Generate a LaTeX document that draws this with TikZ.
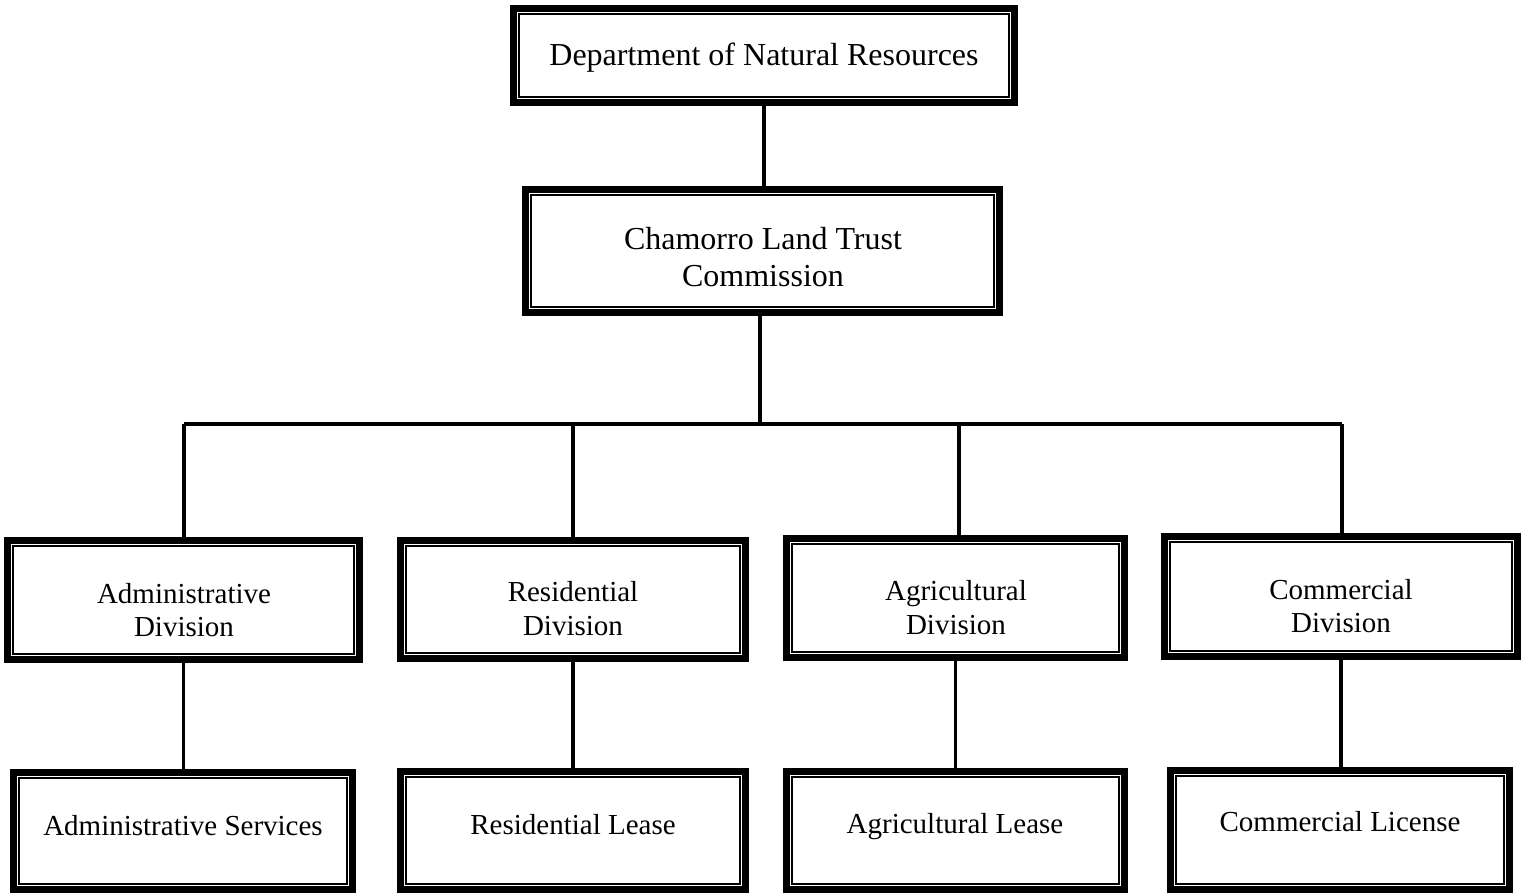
\documentclass[tikz,border=0pt]{standalone}
\usepackage{fontspec}
\setmainfont{Liberation Serif}
\begin{document}
\begin{tikzpicture}[x=0.75pt,y=-0.75pt,
  frame/.style={draw=black,line width=5.25pt,rectangle,inner sep=0pt,fill=white},
  lbl/.style={align=center,inner sep=0pt,font=\fontsize{21.75pt}{25pt}\selectfont},
  biglbl/.style={align=center,inner sep=0pt,font=\fontsize{24pt}{27.5pt}\selectfont},
  conn/.style={draw=black,line width=2.7pt},
  inner/.style={draw=black,line width=1.3pt}]
\useasboundingbox (0,0) rectangle (1528,895);
\coordinate (j1) at (184,424);
\coordinate (j2) at (573,424);
\coordinate (j3) at (959,424);
\coordinate (j4) at (1342,424);
\coordinate (jc) at (760,424);
\coordinate (cltb) at (760,316);
% boxes
\node[frame,minimum width=501*0.75pt,minimum height=94*0.75pt] (dnr) at (764,55.5) {};
\node[frame,minimum width=474*0.75pt,minimum height=123*0.75pt] (clt) at (762.5,251) {};
\node[frame,minimum width=352*0.75pt,minimum height=119*0.75pt] (adm) at (183.5,600) {};
\node[frame,minimum width=345*0.75pt,minimum height=118*0.75pt] (res) at (573,599.5) {};
\node[frame,minimum width=338*0.75pt,minimum height=119*0.75pt] (agr) at (955.5,598) {};
\node[frame,minimum width=353*0.75pt,minimum height=120*0.75pt] (com) at (1341,596.5) {};
\node[frame,minimum width=339*0.75pt,minimum height=117*0.75pt] (admS) at (183,831) {};
\node[frame,minimum width=345*0.75pt,minimum height=118*0.75pt] (resL) at (573,830.5) {};
\node[frame,minimum width=338*0.75pt,minimum height=118*0.75pt] (agrL) at (955.5,830.5) {};
\node[frame,minimum width=339*0.75pt,minimum height=119*0.75pt] (comL) at (1340,830) {};
% inner thin frames
\foreach \n in {dnr,clt,adm,res,agr,com,admS,resL,agrL,comL}{
  \draw[inner] ([shift={(9,-9)}]\n.south west) rectangle ([shift={(-9,9)}]\n.north east);
}
% labels
\node[biglbl] (tdnr) at (764,58) {Department of Natural Resources};
\node[biglbl] (tclt) at (763,257) {Chamorro Land Trust\\Commission};
\node[lbl] (tadm) at (184,610) {Administrative\\Division};
\node[lbl] (tres) at (573,608.5) {Residential\\Division};
\node[lbl] (tagr) at (956,607.5) {Agricultural\\Division};
\node[lbl] (tcom) at (1341,606) {Commercial\\Division};
\node[lbl] (tadmS) at (183,826) {Administrative Services};
\node[lbl] (tresL) at (573,825) {Residential Lease};
\node[lbl] (tagrL) at (955,827) {Agricultural Lease};
\node[lbl] (tcomL) at (1340,822) {Commercial License};
% connectors
\draw[conn] (dnr.south) -- (dnr.south |- clt.north);
\draw[conn] (cltb) -- (jc);
\draw[conn] (j1) -- (j4);
\draw[conn] (j1) -- (j1 |- adm.north);
\draw[conn] (j2) -- (j2 |- res.north);
\draw[conn] (j3) -- (j3 |- agr.north);
\draw[conn] (j4) -- (j4 |- com.north);
\draw[conn] (adm.south) -- (adm.south |- admS.north);
\draw[conn] (res.south) -- (res.south |- resL.north);
\draw[conn] (agr.south) -- (agr.south |- agrL.north);
\draw[conn] (com.south) -- (com.south |- comL.north);
\end{tikzpicture}
\end{document}
